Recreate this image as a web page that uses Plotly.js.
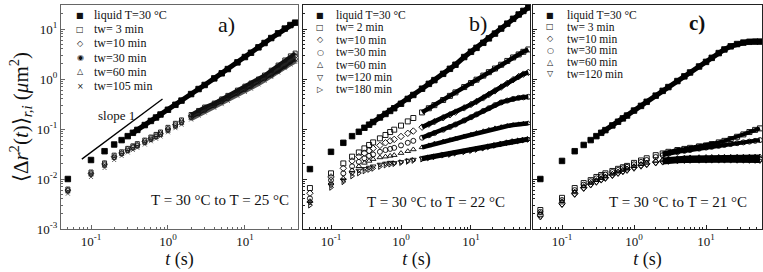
<!DOCTYPE html>
<html>
<head>
<meta charset="utf-8">
<script src="https://cdn.plot.ly/plotly-3.0.1.min.js"></script>
<style>html,body{margin:0;padding:0;background:#fff;}#chart{width:763px;height:272px;}</style>
</head>
<body>
<div id="chart"></div>
<script>
// ---------- Panel a: T = 30 °C to T = 25 °C ----------
var tA = [0.05,0.1,0.15,0.2,0.25,0.3,0.35,0.4,0.5,0.6,0.7,0.8,1,1.25,1.5,2,2.5,3,4,5,6,8,10,12,15,18,22,27,33,39,45];
var aLiquid = [0.010,0.024,0.036,0.049,0.060,0.072,0.084,0.096,0.12,0.145,0.17,0.195,0.243,0.305,0.37,0.5,0.63,0.76,1.03,1.3,1.58,2.15,2.75,3.35,4.3,5.25,6.6,8.2,10.2,12.0,13.4];
var aTw3   = [0.0063,0.0138,0.021,0.030,0.035,0.041,0.046,0.051,0.060,0.069,0.078,0.087,0.108,0.13,0.152,0.195,0.235,0.275,0.33,0.40,0.47,0.60,0.72,0.83,1.0,1.2,1.5,1.9,2.4,2.9,3.3];
var aTw10  = [0.0060,0.013,0.020,0.028,0.033,0.039,0.044,0.048,0.057,0.065,0.074,0.082,0.100,0.122,0.143,0.183,0.22,0.255,0.315,0.38,0.44,0.56,0.67,0.77,0.93,1.1,1.35,1.7,2.1,2.5,2.9];
var aTw30  = [0.0058,0.0125,0.019,0.027,0.032,0.037,0.042,0.046,0.054,0.062,0.070,0.078,0.095,0.115,0.135,0.172,0.205,0.238,0.295,0.355,0.41,0.52,0.62,0.72,0.88,1.02,1.2,1.45,1.8,2.2,2.5];
var aTw60  = [0.0055,0.012,0.018,0.026,0.031,0.036,0.040,0.044,0.052,0.060,0.067,0.074,0.090,0.109,0.128,0.163,0.195,0.225,0.28,0.335,0.39,0.49,0.58,0.68,0.83,0.97,1.15,1.4,1.7,2.0,2.3];
var aTw105 = [0.0051,0.011,0.0166,0.024,0.029,0.034,0.038,0.042,0.049,0.057,0.064,0.071,0.086,0.104,0.122,0.155,0.185,0.214,0.265,0.315,0.365,0.46,0.55,0.64,0.78,0.92,1.1,1.35,1.65,1.95,2.2];
var slopeT = [0.076,0.85];
var slopeV = [0.025,0.40];

// ---------- Panel b: T = 30 °C to T = 22 °C ----------
var tB = [0.05,0.1,0.15,0.2,0.25,0.3,0.35,0.4,0.5,0.6,0.7,0.8,1,1.25,1.5,2,2.5,3,4,5,6,8,10,12,15,18,22,27,33,40,48,56,66];
var bLiquid = [0.0158,0.035,0.053,0.072,0.088,0.106,0.122,0.138,0.17,0.2,0.23,0.26,0.32,0.40,0.48,0.64,0.8,0.95,1.27,1.6,1.93,2.75,3.5,4.2,5.3,6.5,8.1,10.2,12.8,16,19.5,23,27];
var bTw2   = [0.0066,0.013,0.0205,0.028,0.034,0.041,0.048,0.054,0.065,0.076,0.087,0.097,0.117,0.142,0.166,0.215,0.26,0.30,0.38,0.46,0.54,0.69,0.83,0.97,1.17,1.37,1.62,1.93,2.3,2.7,3.1,3.5,3.9];
var bTw10  = [0.0052,0.011,0.0164,0.023,0.028,0.033,0.037,0.041,0.047,0.053,0.058,0.062,0.071,0.082,0.091,0.109,0.125,0.14,0.168,0.193,0.218,0.265,0.31,0.355,0.42,0.49,0.58,0.69,0.82,0.97,1.12,1.25,1.36];
var bTw30  = [0.0041,0.0095,0.013,0.018,0.022,0.026,0.029,0.031,0.035,0.038,0.040,0.042,0.047,0.053,0.058,0.067,0.075,0.083,0.097,0.11,0.123,0.148,0.172,0.196,0.23,0.26,0.30,0.34,0.37,0.40,0.42,0.43,0.44];
var bTw60  = [0.0036,0.0084,0.0103,0.015,0.018,0.021,0.023,0.025,0.027,0.028,0.029,0.030,0.033,0.036,0.039,0.043,0.047,0.051,0.056,0.060,0.064,0.071,0.077,0.083,0.090,0.096,0.103,0.109,0.115,0.120,0.124,0.127,0.130];
var bTw120 = [0.0034,0.0075,0.0095,0.013,0.0148,0.016,0.017,0.018,0.0195,0.0205,0.0213,0.021,0.022,0.0235,0.0245,0.026,0.0275,0.029,0.031,0.032,0.034,0.036,0.038,0.040,0.042,0.045,0.048,0.051,0.054,0.057,0.059,0.061,0.063];
var bTw180 = [0.0030,0.0068,0.0088,0.0115,0.0132,0.0145,0.0155,0.0163,0.0178,0.019,0.0198,0.0203,0.0213,0.0225,0.0235,0.025,0.0265,0.0278,0.030,0.031,0.0328,0.035,0.037,0.039,0.0415,0.044,0.047,0.050,0.053,0.056,0.058,0.060,0.062];

// ---------- Panel c: T = 30 °C to T = 21 °C ----------
var tC = [0.05,0.1,0.15,0.2,0.25,0.3,0.35,0.4,0.5,0.6,0.7,0.8,1,1.25,1.5,2,2.5,3,4,5,6,8,10,12,15,18,22,27,33,40,48,56];
var cLiquid = [0.010,0.023,0.036,0.048,0.060,0.072,0.084,0.095,0.118,0.14,0.163,0.186,0.234,0.29,0.35,0.465,0.58,0.69,0.91,1.13,1.35,1.78,2.2,2.65,3.3,3.9,4.5,5.0,5.35,5.55,5.6,5.6];
var cTw3   = [0.0024,0.0042,0.0066,0.0083,0.0095,0.011,0.012,0.013,0.0145,0.016,0.0172,0.0183,0.021,0.0235,0.026,0.030,0.0325,0.035,0.038,0.040,0.042,0.045,0.047,0.050,0.054,0.058,0.063,0.070,0.078,0.087,0.096,0.103];
var cTw10  = [0.0019,0.0032,0.0051,0.0067,0.0079,0.009,0.0099,0.0107,0.0122,0.0135,0.0146,0.0156,0.0173,0.019,0.0202,0.0218,0.0228,0.0235,0.0242,0.0246,0.0248,0.025,0.025,0.0251,0.0252,0.0252,0.0253,0.0253,0.0252,0.0252,0.0251,0.025];
var cTw30  = [0.0022,0.0038,0.006,0.0077,0.009,0.0103,0.0113,0.0122,0.0138,0.0152,0.0164,0.0175,0.0197,0.022,0.024,0.0275,0.030,0.032,0.0345,0.0365,0.038,0.0405,0.0425,0.044,0.046,0.048,0.050,0.052,0.054,0.056,0.058,0.060];
var cTw60  = [0.0021,0.0036,0.0056,0.0072,0.0084,0.0095,0.0104,0.0112,0.0127,0.014,0.0151,0.0161,0.018,0.0198,0.0212,0.0232,0.0245,0.0253,0.0262,0.0267,0.027,0.0273,0.0275,0.0276,0.0277,0.0278,0.0278,0.0279,0.0279,0.028,0.028,0.0282];
var cTw120 = [0.0017,0.003,0.0048,0.0063,0.0074,0.0084,0.0093,0.010,0.0114,0.0126,0.0136,0.0145,0.016,0.0176,0.0188,0.0204,0.0213,0.022,0.0226,0.0229,0.0231,0.0232,0.0233,0.0233,0.0233,0.0233,0.0233,0.0232,0.0232,0.0231,0.0231,0.023];

// ---------- Labels ----------
var legendA = ['liquid T=30 °C','tw= 3 min','tw=10 min','tw=30 min','tw=60 min','tw=105 min'];
var legendB = ['liquid T=30 °C','tw= 2 min','tw=10 min','tw=30 min','tw=60 min','tw=120 min','tw=180 min'];
var legendC = ['liquid T=30 °C','tw= 3 min','tw=10 min','tw=30 min','tw=60 min','tw=120 min'];
var panelLabels = ['a)','b)','c)'];
var tempLabels = ['T = 30 °C to T = 25 °C','T = 30 °C to T = 22 °C','T = 30 °C to T = 21 °C'];
var xTickVals = [0.1,1,10];
var xTickText = ['10<sup>-1</sup>','10<sup>0</sup>','10<sup>1</sup>'];
var yTickVals = [0.001,0.01,0.1,1,10];
var yTickText = ['10<sup>-3</sup>','10<sup>-2</sup>','10<sup>-1</sup>','10<sup>0</sup>','10<sup>1</sup>'];

// ---------- Build ----------
var SERIF = 'Liberation Serif';
var traces = [];
function addSeries(xa, ya, t, v, sym, size, color, lineFrom, lineW) {
  if (lineFrom !== null) {
    var k = t.findIndex(function(d){ return d >= lineFrom; });
    traces.push({x: t.slice(k), y: v.slice(k), xaxis: xa, yaxis: ya, mode: 'lines',
      line: {color: color, width: lineW}, showlegend: false, hoverinfo: 'skip'});
  }
  traces.push({x: t, y: v, xaxis: xa, yaxis: ya, mode: 'markers', showlegend: false,
    marker: {symbol: sym, size: size, color: color, line: {color: color, width: 0.9}}});
}
// panel a
addSeries('x','y', tA, aTw105, 'x-thin-open', 4, '#555', 2, 3.5);
addSeries('x','y', tA, aTw60, 'triangle-up-open', 4, '#555', 2, 3.5);
addSeries('x','y', tA, aTw30, 'circle-open-dot', 4.5, '#111', 2, 3.5);
addSeries('x','y', tA, aTw10, 'diamond-open', 4.5, '#222', 2, 3.5);
addSeries('x','y', tA, aTw3, 'square-open', 4, '#111', 2, 3.5);
addSeries('x','y', tA, aLiquid, 'square', 5.5, '#000', 0.35, 5);
traces.push({x: slopeT, y: slopeV, xaxis: 'x', yaxis: 'y', mode: 'lines', line: {color: '#000', width: 1.3}, showlegend: false});
// panel b
addSeries('x2','y2', tB, bTw180, 'triangle-right-open', 5, '#000', 2, 4.5);
addSeries('x2','y2', tB, bTw120, 'triangle-down-open', 5, '#000', 2, 4.5);
addSeries('x2','y2', tB, bTw60, 'triangle-up-open', 5, '#000', 2, 4.5);
addSeries('x2','y2', tB, bTw30, 'circle-open', 5, '#000', 2, 4.5);
addSeries('x2','y2', tB, bTw10, 'diamond-open', 5, '#000', 2, 4.5);
addSeries('x2','y2', tB, bTw2, 'square-open', 5, '#000', 2, 4.5);
addSeries('x2','y2', tB, bLiquid, 'square', 5.5, '#000', 0.35, 5);
// panel c
addSeries('x3','y3', tC, cTw120, 'triangle-down-open', 5, '#000', 2.5, 4);
addSeries('x3','y3', tC, cTw60, 'triangle-up-open', 5, '#000', 2.5, 4);
addSeries('x3','y3', tC, cTw30, 'circle-open', 5, '#000', 2.5, 4);
addSeries('x3','y3', tC, cTw10, 'diamond-open', 5, '#000', 2.5, 4);
addSeries('x3','y3', tC, cTw3, 'square-open', 5, '#000', 2.5, 4);
addSeries('x3','y3', tC, cLiquid, 'square', 5.5, '#000', 0.35, 5);

var W = 763, H = 272;
function px(x){ return x / W; }
function py(y){ return 1 - y / H; }

var minorX = [0.05,0.06,0.07,0.08,0.09,0.2,0.3,0.4,0.5,0.6,0.7,0.8,0.9,2,3,4,5,6,7,8,9,20,30,40,50,60];
var minorY = [0.002,0.003,0.004,0.005,0.006,0.007,0.008,0.009,0.02,0.03,0.04,0.05,0.06,0.07,0.08,0.09,0.2,0.3,0.4,0.5,0.6,0.7,0.8,0.9,2,3,4,5,6,7,8,9,20,30];

function xAxis(dom, rng, anchor, col) {
  return {type: 'log', domain: dom, range: rng, anchor: anchor,
    tickvals: xTickVals, ticktext: xTickText, ticks: 'inside', ticklen: 4, tickcolor: col,
    showline: true, linecolor: col, linewidth: 1, mirror: true, showgrid: false, zeroline: false,
    tickfont: {family: SERIF, size: 13, color: '#111'},
    minor: {tickvals: minorX, ticks: 'inside', ticklen: 2, tickcolor: col, showgrid: false},
    title: {text: '<i>t</i> (s)', font: {family: SERIF, size: 18, color: '#111'}, standoff: 3}};
}
function yAxis(anchor, col, labels) {
  var a = {type: 'log', domain: [0.158, 0.9816], range: [-3, 1.48], anchor: anchor,
    tickvals: yTickVals, ticktext: yTickText, ticks: 'inside', ticklen: 4, tickcolor: col,
    showline: true, linecolor: col, linewidth: 1, mirror: true, showgrid: false, zeroline: false,
    showticklabels: labels, tickfont: {family: SERIF, size: 13, color: '#111'},
    minor: {tickvals: minorY, ticks: 'inside', ticklen: 2, tickcolor: col, showgrid: false}};
  if (labels) a.title = {text: '⟨Δ<i>r</i><sup>2</sup>(<i>t</i>)⟩<sub><i>r,i</i></sub> (<i>μ</i>m<sup>2</sup>)',
    font: {family: SERIF, size: 21, color: '#111'}, standoff: 2};
  return a;
}

var annotations = [];
function addText(x, y, text, size, xanchor, font) {
  annotations.push({xref: 'paper', yref: 'paper', x: px(x), y: py(y), text: text, showarrow: false,
    xanchor: xanchor, yanchor: 'middle', font: {family: font || SERIF, size: size, color: '#111'}});
}
var symA = ['■','□','◇','◉','△','×'];
var symB = ['■','□','◇','○','△','▽','▷'];
var symC = ['■','□','◇','○','△','▽'];
function addLegend(labels, syms, mx, tx, y0, dy, fs) {
  for (var i = 0; i < labels.length; i++) {
    addText(mx, y0 + i * dy, syms[i], 8, 'center', 'DejaVu Sans');
    addText(tx, y0 + i * dy, labels[i], fs, 'left');
  }
}
addLegend(legendA, symA, 80, 92, 15, 14.2, 12);
addLegend(legendB, symB, 320, 334, 15, 12.4, 11.5);
addLegend(legendC, symC, 550, 565, 15, 11.8, 11.5);
addText(227, 24, panelLabels[0], 22, 'center');
addText(478, 23, panelLabels[1], 22, 'center');
addText(697, 23, '<b>' + panelLabels[2] + '</b>', 21, 'center');
addText(220, 200, tempLabels[0], 15, 'center');
addText(436, 202, tempLabels[1], 15, 'center');
addText(678, 202, tempLabels[2], 15, 'center');
addText(117, 115, 'slope 1', 13, 'center');

var layout = {
  width: W, height: H, margin: {l: 0, r: 0, t: 0, b: 0},
  paper_bgcolor: '#fff', plot_bgcolor: '#fff', showlegend: false,
  xaxis: xAxis([61/W, 298/W], [-1.39, 1.69], 'y', '#666'),
  xaxis2: xAxis([303/W, 530/W], [-1.40, 1.843], 'y2', '#222'),
  xaxis3: xAxis([533/W, 762/W], [-1.403, 1.777], 'y3', '#222'),
  yaxis: yAxis('x', '#666', true),
  yaxis2: yAxis('x2', '#222', false),
  yaxis3: yAxis('x3', '#222', false),
  annotations: annotations
};
Plotly.newPlot('chart', traces, layout, {staticPlot: true, displayModeBar: false});
</script>
</body>
</html>
